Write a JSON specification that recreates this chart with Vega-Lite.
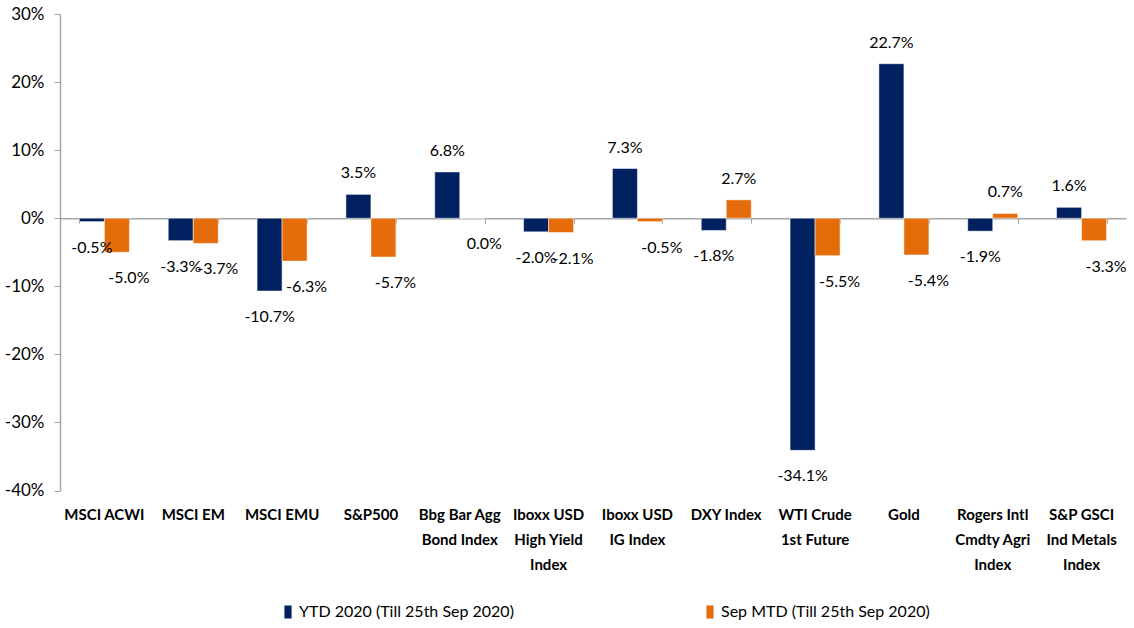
{
  "$schema": "https://vega.github.io/schema/vega-lite/v6.json",
  "autosize": "none",
  "width": 1066,
  "height": 476.5,
  "padding": {"left": 60, "top": 14, "right": 8, "bottom": 137.5},
  "background": "white",
  "config": {
    "view": {"stroke": null},
    "font": "Lato",
    "locale": {"number": {"decimal": ".", "thousands": ",", "grouping": [3], "currency": ["$", ""], "minus": "-"}},
    "axis": {"labelFont": "Lato", "labelColor": "#000000"},
    "legend": {"labelFont": "Lato"}
  },
  "data": {
    "values": [
      {"category": "MSCI ACWI", "series": "YTD 2020 (Till 25th Sep 2020)", "value": -0.005},
      {"category": "MSCI ACWI", "series": "Sep MTD (Till 25th Sep 2020)", "value": -0.050},
      {"category": "MSCI EM", "series": "YTD 2020 (Till 25th Sep 2020)", "value": -0.033},
      {"category": "MSCI EM", "series": "Sep MTD (Till 25th Sep 2020)", "value": -0.037},
      {"category": "MSCI EMU", "series": "YTD 2020 (Till 25th Sep 2020)", "value": -0.107},
      {"category": "MSCI EMU", "series": "Sep MTD (Till 25th Sep 2020)", "value": -0.063},
      {"category": "S&P500", "series": "YTD 2020 (Till 25th Sep 2020)", "value": 0.035},
      {"category": "S&P500", "series": "Sep MTD (Till 25th Sep 2020)", "value": -0.057},
      {"category": "Bbg Bar Agg|Bond Index", "series": "YTD 2020 (Till 25th Sep 2020)", "value": 0.068},
      {"category": "Bbg Bar Agg|Bond Index", "series": "Sep MTD (Till 25th Sep 2020)", "value": 0.0},
      {"category": "Iboxx USD|High Yield|Index", "series": "YTD 2020 (Till 25th Sep 2020)", "value": -0.020},
      {"category": "Iboxx USD|High Yield|Index", "series": "Sep MTD (Till 25th Sep 2020)", "value": -0.021},
      {"category": "Iboxx USD|IG Index", "series": "YTD 2020 (Till 25th Sep 2020)", "value": 0.073},
      {"category": "Iboxx USD|IG Index", "series": "Sep MTD (Till 25th Sep 2020)", "value": -0.005},
      {"category": "DXY Index", "series": "YTD 2020 (Till 25th Sep 2020)", "value": -0.018},
      {"category": "DXY Index", "series": "Sep MTD (Till 25th Sep 2020)", "value": 0.027},
      {"category": "WTI Crude|1st Future", "series": "YTD 2020 (Till 25th Sep 2020)", "value": -0.341},
      {"category": "WTI Crude|1st Future", "series": "Sep MTD (Till 25th Sep 2020)", "value": -0.055},
      {"category": "Gold", "series": "YTD 2020 (Till 25th Sep 2020)", "value": 0.227},
      {"category": "Gold", "series": "Sep MTD (Till 25th Sep 2020)", "value": -0.054},
      {"category": "Rogers Intl|Cmdty Agri|Index", "series": "YTD 2020 (Till 25th Sep 2020)", "value": -0.019},
      {"category": "Rogers Intl|Cmdty Agri|Index", "series": "Sep MTD (Till 25th Sep 2020)", "value": 0.007},
      {"category": "S&P GSCI|Ind Metals|Index", "series": "YTD 2020 (Till 25th Sep 2020)", "value": 0.016},
      {"category": "S&P GSCI|Ind Metals|Index", "series": "Sep MTD (Till 25th Sep 2020)", "value": -0.033}
    ]
  },
  "encoding": {
    "x": {
      "field": "category", "type": "nominal", "sort": null,
      "scale": {"paddingInner": 0.437, "paddingOuter": 0.2185}
    },
    "xOffset": {
      "field": "series", "type": "nominal",
      "sort": ["YTD 2020 (Till 25th Sep 2020)", "Sep MTD (Till 25th Sep 2020)"],
      "scale": {"paddingInner": 0, "paddingOuter": 0}
    },
    "y": {
      "field": "value", "type": "quantitative",
      "scale": {"domain": [-0.4, 0.3], "nice": false, "zero": false},
      "axis": {
        "format": ".0%", "values": [-0.4, -0.3, -0.2, -0.1, 0, 0.1, 0.2, 0.3],
        "grid": false, "title": null, "domainColor": "#A6A6A6", "tickColor": "#A6A6A6",
        "tickSize": 6, "labelPadding": 10, "labelFontSize": 17, "domainWidth": 1.5
      }
    }
  },
  "layer": [
    {
      "mark": {"type": "bar", "stroke": "white", "strokeWidth": 0.5},
      "encoding": {
        "x": {
          "field": "category", "type": "nominal", "sort": null,
          "axis": {
            "orient": "bottom", "offset": -272.3, "labels": false, "title": null,
            "domainColor": "#A6A6A6", "domainWidth": 1.5, "tickColor": "#A6A6A6",
            "tickSize": 5, "tickBand": "extent"
          }
        },
        "color": {
          "field": "series", "type": "nominal",
          "sort": ["YTD 2020 (Till 25th Sep 2020)", "Sep MTD (Till 25th Sep 2020)"],
          "scale": {"range": ["#002060", "#E46C0A"]},
          "legend": {
            "title": null, "orient": "none", "direction": "horizontal",
            "legendX": 220, "legendY": 590, "padding": 0,
            "symbolType": "M-0.55,-1H0.55V1H-0.55Z", "symbolSize": 169,
            "symbolStrokeWidth": 0, "labelFontSize": 16, "labelColor": "#000000",
            "labelOffset": 3, "columnPadding": 188, "labelLimit": 400
          }
        }
      }
    },
    {
      "transform": [{"filter": "datum.value > 0"}],
      "mark": {"type": "text", "dy": -21, "baseline": "middle", "fontSize": 16, "color": "#000000"},
      "encoding": {
        "x": {
          "field": "category", "type": "nominal", "sort": null,
          "axis": {
            "orient": "bottom", "title": null, "domain": false, "ticks": false,
            "labelFontSize": 15, "labelFontWeight": "bold", "labelPadding": 17,
            "labelBaseline": "top", "labelLineHeight": 25, "labelAngle": 0,
            "labelExpr": "split(datum.label, '|')", "labelLimit": 200
          }
        },
        "text": {"field": "value", "type": "quantitative", "format": ".1%"}
      }
    },
    {
      "transform": [{"filter": "datum.value <= 0 && datum.series == 'YTD 2020 (Till 25th Sep 2020)'"}],
      "mark": {"type": "text", "dy": 26, "baseline": "middle", "fontSize": 16, "color": "#000000"},
      "encoding": {
        "x": {"field": "category", "type": "nominal", "sort": null, "axis": null},
        "text": {"field": "value", "type": "quantitative", "format": ".1%"}
      }
    },
    {
      "transform": [{"filter": "datum.value <= 0 && datum.series == 'Sep MTD (Till 25th Sep 2020)'"}],
      "mark": {"type": "text", "dy": 26, "dx": 12, "baseline": "middle", "fontSize": 16, "color": "#000000"},
      "encoding": {
        "x": {"field": "category", "type": "nominal", "sort": null, "axis": null},
        "text": {"field": "value", "type": "quantitative", "format": ".1%"}
      }
    }
  ],
  "resolve": {"axis": {"x": "independent"}}
}
